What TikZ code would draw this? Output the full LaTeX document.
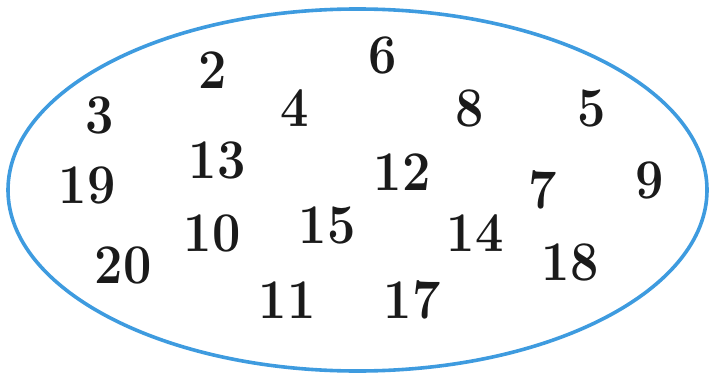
\documentclass[tikz,border=0pt]{standalone}
\usepackage{xcolor}
\usepackage{graphicx}
\definecolor{Rim}{HTML}{3E9BDF}
\definecolor{Ink}{HTML}{1A1A1A}
\newcommand{\slim}[1]{\scalebox{0.9}[1]{#1}}

\begin{document}
\begin{tikzpicture}[x=0.5pt,y=-0.5pt]
\tikzset{num/.style={font=\fontsize{28}{32}\selectfont\bfseries,text=Ink,inner sep=0pt}}
\useasboundingbox (0,0) rectangle (711,374);
\draw[Rim,line width=1.8pt] (357.5,190) ellipse [x radius=349.5,y radius=181];
\node[num] (n2) at (213,70) {\slim{2}};
\node[num] (n6) at (383,55) {\slim{6}};
\node[num] (n3) at (100,115) {\slim{3}};
\node[num] (n4) at (295,108) {\slim{4}};
\node[num] (n8) at (470,108) {\slim{8}};
\node[num] (n5) at (592,108) {\slim{5}};
\node[num] (n13) at (217,160) {\slim{13}};
\node[num] (n12) at (402,172) {\slim{12}};
\node[num] (n19) at (87,185) {\slim{19}};
\node[num] (n7) at (543,190) {\slim{7}};
\node[num] (n9) at (650,180) {\slim{9}};
\node[num] (n15) at (327,225) {\slim{15}};
\node[num] (n10) at (212,233) {\slim{10}};
\node[num] (n14) at (475,233) {\slim{14}};
\node[num] (n20) at (123,265) {\slim{20}};
\node[num] (n18) at (570,262) {\slim{18}};
\node[num] (n11) at (287,300) {\slim{11}};
\node[num] (n17) at (412,300) {\slim{17}};
\end{tikzpicture}
\end{document}
